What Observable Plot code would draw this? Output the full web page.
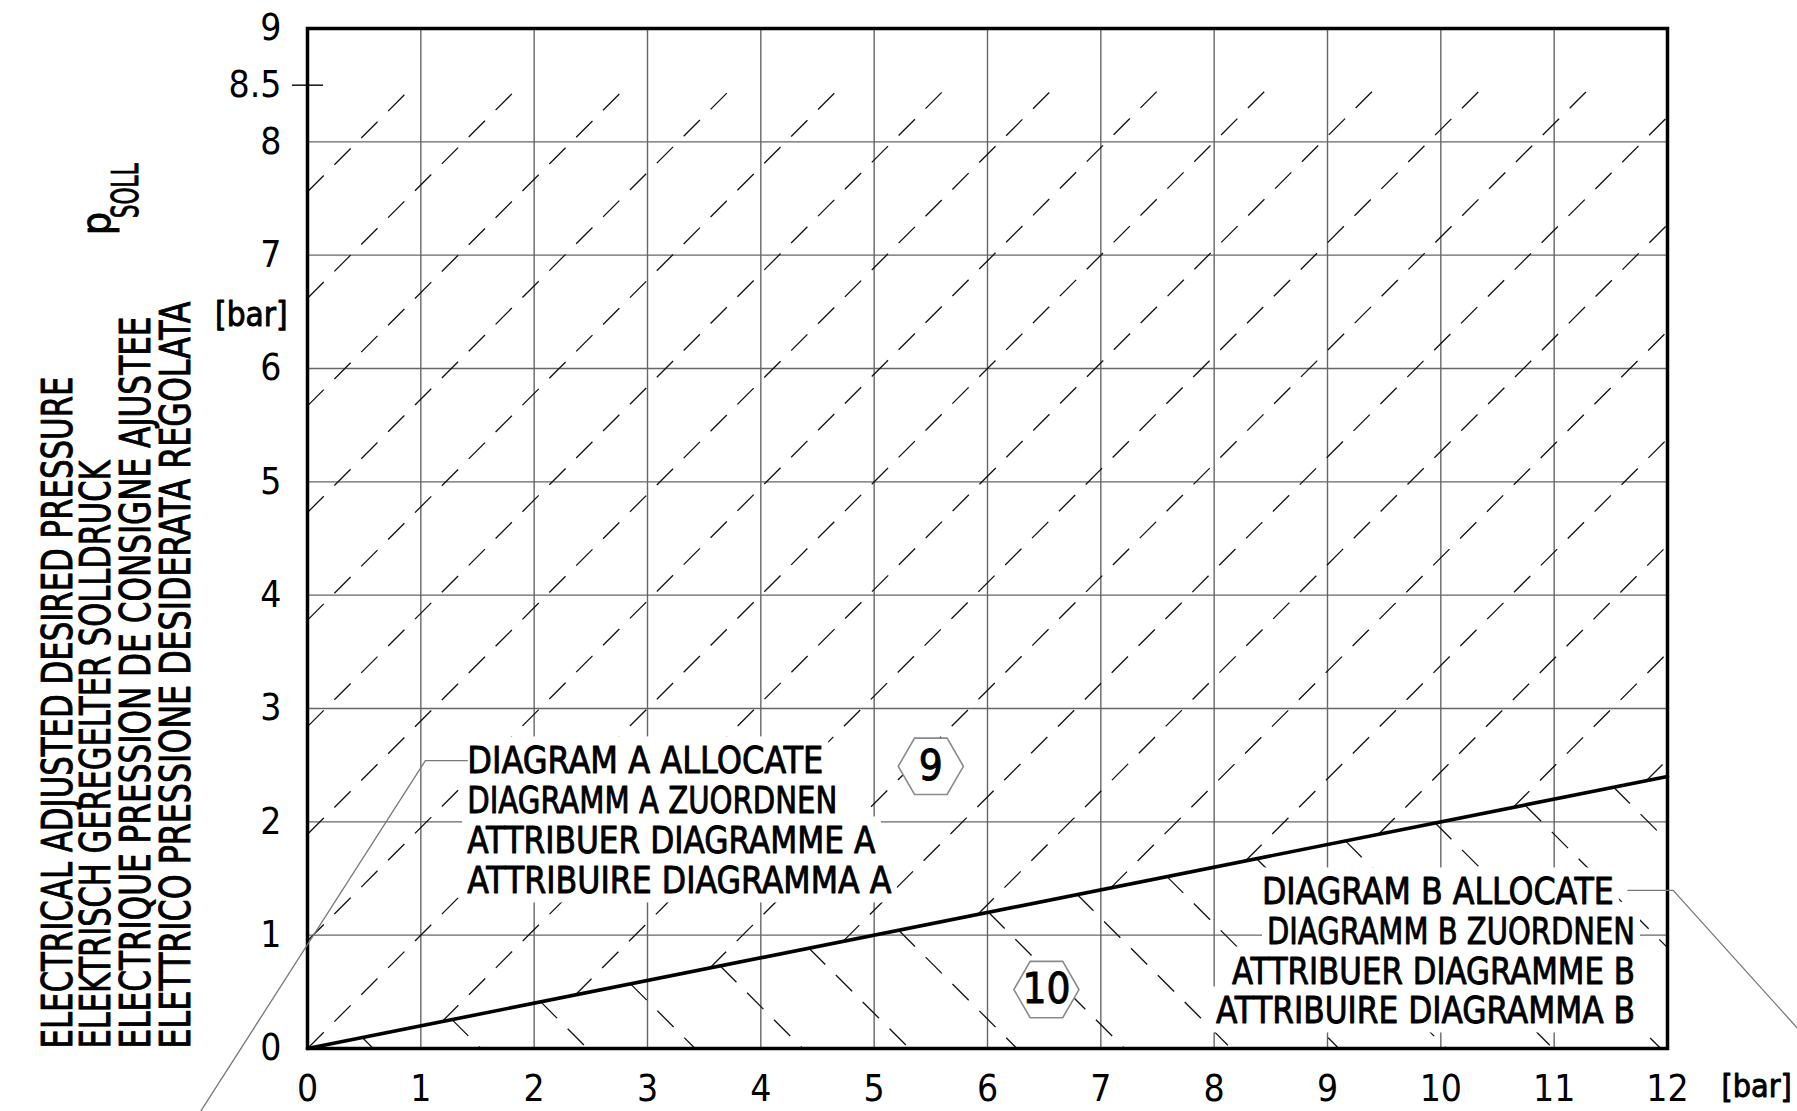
<!DOCTYPE html>
<html>
<head>
<meta charset="utf-8">
<script src="https://cdn.jsdelivr.net/npm/d3@7"></script>
<script src="https://cdn.jsdelivr.net/npm/@observablehq/plot@0.6"></script>
<style>
  html, body { margin: 0; padding: 0; background: #fff; }
  #chart svg { display: block; }
</style>
</head>
<body>
<div id="chart"></div>
<script>
// ---------- data ----------
const xTicks = [0, 1, 2, 3, 4, 5, 6, 7, 8, 9, 10, 11, 12];
const yTicks = [0, 1, 2, 3, 4, 5, 6, 7, 8, 8.5, 9];
const xGrid = [1, 2, 3, 4, 5, 6, 7, 8, 9, 10, 11];
const yGrid = [1, 2, 3, 4, 5, 6, 7, 8];
const markedTick = [8.5];

// boundary between diagram A and diagram B
const boundaryP = [0, 12];
const boundaryPsoll = [0, 2.4];

// hatch lines: "/" region A  (p_soll = p + c), "\" region B (p_soll = d - p)
const hatchAOffsets = [7.56, 6.62, 5.67, 4.73, 3.78, 2.84, 1.89, 0.95, 0, -0.95, -1.89, -2.84,
                       -3.78, -4.73, -5.67, -6.62, -7.56, -8.51, -9.45];
const hatchATop = 8.5;
const hatchBOffsets = [0.58, 1.53, 2.47, 3.42, 4.37, 5.31, 6.26, 7.21, 8.15, 9.10, 10.05,
                       10.99, 11.94, 12.89, 13.83];

// texts
const yTitleLines = [
  "ELECTRICAL ADJUSTED DESIRED PRESSURE",
  "ELEKTRISCH GEREGELTER SOLLDRUCK",
  "ELECTRIQUE PRESSION DE CONSIGNE AJUSTEE",
  "ELETTRICO PRESSIONE DESIDERATA REGOLATA"
];
const noteALines = [
  "DIAGRAM A ALLOCATE",
  "DIAGRAMM A ZUORDNEN",
  "ATTRIBUER DIAGRAMME A",
  "ATTRIBUIRE DIAGRAMMA A"
];
const noteBLines = [
  "DIAGRAM B ALLOCATE",
  "DIAGRAMM B ZUORDNEN",
  "ATTRIBUER DIAGRAMME B",
  "ATTRIBUIRE DIAGRAMMA B"
];
const hexLabels = ["9", "10"];
const hexP = [5.50, 6.52];
const hexPsoll = [2.49, 0.52];

const leaderAP = [1.41, 1.04, -0.944];
const leaderAPsoll = [2.54, 2.54, -0.556];
const leaderBP = [11.65, 12.05, 13.2];
const leaderBPsoll = [1.395, 1.395, 0.12];

// ---------- layout / style ----------
const FONT = "'DejaVu Sans Condensed','Liberation Sans Narrow','Liberation Sans',sans-serif";
const yTitle = {x: [-2.077, -1.739, -1.386, -1.033], y: 0};
const noteA = {x: 1.41, y0: 2.427, step: 0.353};
const noteB = {x: [11.527, 11.713, 11.713, 11.713], y0: 1.271, step: 0.35};
const ink = {fill: "#000", stroke: "#000", strokeWidth: 0.9};

// condensed lettering widths (px) as in the drawing
const textLengths = new Map([
  [yTitleLines[0], 672], [yTitleLines[1], 588], [yTitleLines[2], 732], [yTitleLines[3], 747],
  [noteALines[0], 356], [noteALines[1], 370], [noteALines[2], 408], [noteALines[3], 424],
  [noteBLines[0], 352], [noteBLines[1], 368], [noteBLines[2], 403], [noteBLines[3], 419],
  ["SOLL", 55]
]);
const maskedTexts = new Set([...noteALines, ...noteBLines]);

// ---------- derived geometry ----------
const slope = boundaryPsoll[1] / boundaryP[1];
const xMax = xTicks[xTicks.length - 1];
const hatchA = hatchAOffsets.map(c => {
  const x1 = c >= 0 ? 0 : -c / (1 - slope);
  const y1 = x1 + c;
  let x2 = hatchATop - c, y2 = hatchATop;
  if (x2 > xMax) { x2 = xMax; y2 = xMax + c; }
  return {x1, y1, x2, y2};
});
const hatchB = hatchBOffsets.map(d => {
  const x1 = d / (1 + slope);
  const y1 = slope * x1;
  let x2 = d, y2 = 0;
  if (x2 > xMax) { x2 = xMax; y2 = d - xMax; }
  return {x1, y1, x2, y2};
});
const boundary = boundaryP.map((p, i) => ({p, s: boundaryPsoll[i]}));
const leaderA = leaderAP.map((p, i) => ({p, s: leaderAPsoll[i]}));
const leaderB = leaderBP.map((p, i) => ({p, s: leaderBPsoll[i]}));
const hexes = hexLabels.map((t, i) => ({t, p: hexP[i], s: hexPsoll[i]}));

const gridStyle = {stroke: "#666", strokeOpacity: 1, strokeWidth: 1.4};
const hatchStyle = {stroke: "#111", strokeWidth: 1.3, strokeDasharray: "23,15"};

const chart = Plot.plot({
  width: 1797,
  height: 1111,
  marginLeft: 307,
  marginRight: 130,
  marginTop: 28,
  marginBottom: 63,
  x: {domain: [0, 12]},
  y: {domain: [0, 9]},
  style: {fontFamily: FONT, background: "#fff", color: "#000"},
  marks: [
    Plot.gridX(xGrid, gridStyle),
    Plot.gridY(yGrid, gridStyle),
    Plot.link(hatchA, {x1: "x1", y1: "y1", x2: "x2", y2: "y2", ...hatchStyle}),
    Plot.link(hatchB, {x1: "x1", y1: "y1", x2: "x2", y2: "y2", ...hatchStyle}),
    Plot.line(boundary, {x: "p", y: "s", stroke: "#000", strokeWidth: 3.6}),
    Plot.frame({stroke: "#000", strokeWidth: 3.5}),
    Plot.ruleY(markedTick, {x1: 0, x2: 0, insetLeft: -15, insetRight: -16, stroke: "#000", strokeWidth: 1.4}),
    Plot.axisX(xTicks, {tickSize: 0, tickPadding: 26, fontSize: 37, label: null, tickFormat: d => String(d), ...ink, strokeWidth: 0.5}),
    Plot.axisY(yTicks, {tickSize: 0, tickPadding: 26, fontSize: 37, label: null, tickFormat: d => String(d), ...ink, strokeWidth: 0.5}),
    Plot.text(["[bar]"], {x: 12, y: 0, dx: 54, dy: 26, textAnchor: "start", lineAnchor: "top", fontSize: 32, ...ink}),
    Plot.text(["[bar]"], {x: 0, y: 6.47, dx: -20, textAnchor: "end", lineAnchor: "middle", fontSize: 33, ...ink}),
    Plot.text(yTitleLines, {x: yTitle.x, y: yTitle.y, rotate: -90, textAnchor: "start", lineAnchor: "bottom", fontSize: 43, ...ink}),
    Plot.text(["p"], {x: -1.739, y: 7.176, rotate: -90, textAnchor: "start", lineAnchor: "bottom", fontSize: 41, ...ink}),
    Plot.text(["SOLL"], {x: -1.50, y: 7.326, rotate: -90, textAnchor: "start", lineAnchor: "bottom", fontSize: 37, ...ink}),
    Plot.dot(hexes, {x: "p", y: "s", symbol: "hexagon", r: 28.2, rotate: 90, fill: "#fff", stroke: "#8a8a8a", strokeWidth: 1.6}),
    Plot.text(hexes, {x: "p", y: "s", text: "t", fontSize: 42, lineAnchor: "middle", ...ink}),
    Plot.text(noteALines, {x: noteA.x, y: (d, i) => noteA.y0 - i * noteA.step, textAnchor: "start", lineAnchor: "bottom", fontSize: 38, ...ink}),
    Plot.text(noteBLines, {x: noteB.x, y: (d, i) => noteB.y0 - i * noteB.step, textAnchor: "end", lineAnchor: "bottom", fontSize: 38, ...ink}),
    Plot.line(leaderA, {x: "p", y: "s", stroke: "#777", strokeWidth: 1.3}),
    Plot.line(leaderB, {x: "p", y: "s", stroke: "#777", strokeWidth: 1.3})
  ]
});
document.getElementById("chart").appendChild(chart);

// condensed lettering like the drawing
d3.select(chart).selectAll("text").each(function () {
  const t = this.textContent;
  if (textLengths.has(t)) {
    this.setAttribute("textLength", textLengths.get(t));
    this.setAttribute("lengthAdjust", "spacingAndGlyphs");
  }
});

// white wipeouts behind each note line
const masks = [];
d3.select(chart).selectAll("text").each(function () {
  if (!maskedTexts.has(this.textContent)) return;
  const b = this.getBBox();
  const m = this.getCTM();
  const pts = [[b.x, b.y], [b.x + b.width, b.y], [b.x, b.y + b.height], [b.x + b.width, b.y + b.height]]
    .map(([px, py]) => [m.a * px + m.c * py + m.e, m.b * px + m.d * py + m.f]);
  const xs = pts.map(p => p[0]), ys = pts.map(p => p[1]);
  masks.push({g: this.parentNode, x0: Math.min(...xs) - 5, y0: Math.min(...ys) - 2, x1: Math.max(...xs) + 5, y1: Math.max(...ys)});
});
for (const {g, x0, y0, x1, y1} of masks) {
  const r = document.createElementNS("http://www.w3.org/2000/svg", "rect");
  r.setAttribute("x", x0); r.setAttribute("y", y0);
  r.setAttribute("width", x1 - x0); r.setAttribute("height", y1 - y0);
  r.setAttribute("fill", "#fff");
  g.parentNode.insertBefore(r, g);
}
</script>
</body>
</html>
